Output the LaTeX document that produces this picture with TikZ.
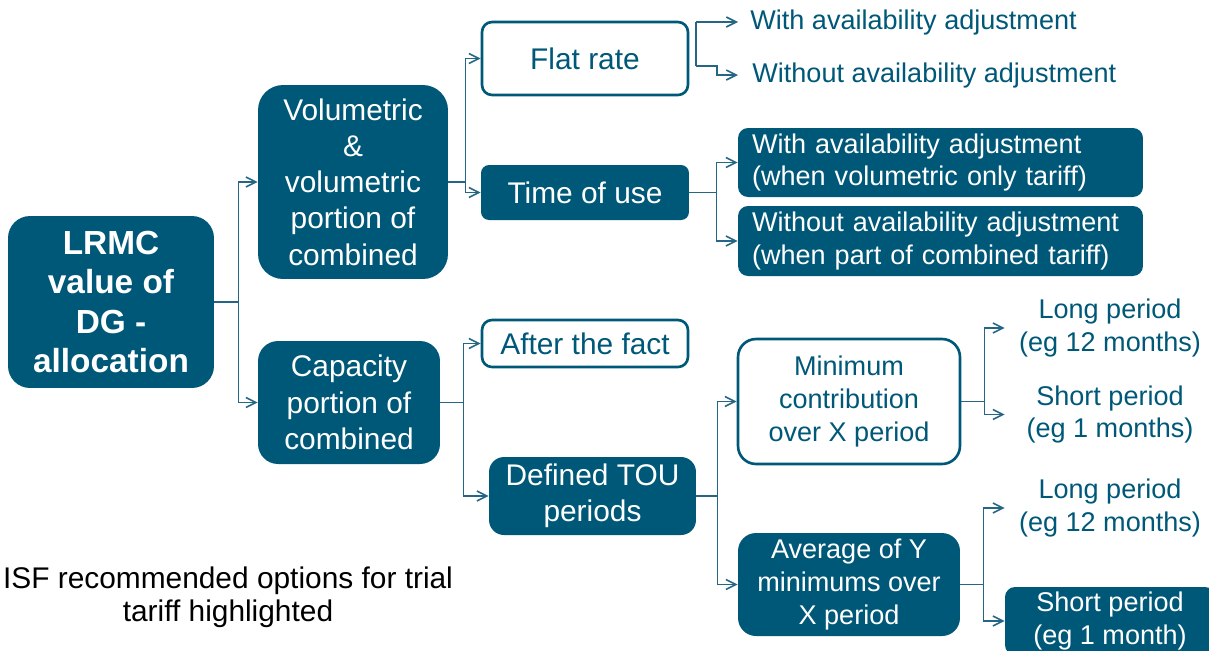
\documentclass[tikz,border=0pt]{standalone}
\usepackage{fontspec}
\setmainfont{Liberation Sans}
\usetikzlibrary{arrows.meta}
\definecolor{isfteal}{RGB}{0,88,120}
\definecolor{isfline}{RGB}{36,102,132}

\begin{document}
\begin{tikzpicture}[x=0.02cm, y=-0.02cm,
  every node/.style={text=isfteal, align=center, inner sep=0pt},
  darkbox/.style={fill=isfteal, text=white, rounded corners=0.2cm},
  whitebox/.style={draw=isfteal, line width=1.5pt, fill=white, rounded corners=0.2cm},
  bigtxt/.style={font=\fontsize{17}{20.6}\selectfont},
  smalltxt/.style={font=\fontsize{15.4}{18.6}\selectfont},
  wide/.style={minimum width=8.1cm, text width=7.54cm, align=left},
  period/.style={smalltxt, minimum width=4.2cm},
  link/.style={draw=isfline, line width=0.9pt},
  arr/.style={link, -{Straight Barb[length=0.2cm, width=0.2cm]}}]
\useasboundingbox (0,0) rectangle (1209,650);
\clip (0,0) rectangle (1209,650);

\node[darkbox, rounded corners=0.44cm, minimum width=4.12cm, minimum height=3.44cm,
  font=\fontsize{19}{22.4}\selectfont\bfseries] (root) at (111,302) {LRMC\\value of\\DG -\\allocation};

\node[darkbox, bigtxt, rounded corners=0.5cm, minimum width=3.8cm, minimum height=3.88cm] (vol) at (353,182)
  {Volumetric\\\&\\volumetric\\portion of\\combined};
\node[darkbox, bigtxt, rounded corners=0.4cm, minimum width=3.64cm, minimum height=2.46cm] (cap) at (349,402.5)
  {Capacity\\portion of\\combined};

\node[whitebox, bigtxt, minimum width=4.12cm, minimum height=1.46cm] (flat) at (585,58.5) {Flat rate};
\node[darkbox, bigtxt, rounded corners=0.16cm, minimum width=4.16cm, minimum height=1.1cm] (tou) at (585,192.5) {Time of use};
\node[whitebox, bigtxt, minimum width=4.12cm, minimum height=0.94cm] (after) at (585,343.5) {After the fact};
\node[darkbox, bigtxt, rounded corners=0.3cm, minimum width=4.14cm, minimum height=1.56cm] (defined) at (592.5,496)
  {Defined TOU\\periods};

\node[smalltxt, anchor=west, inner xsep=0.24cm] (with) at (738,22) {With availability adjustment};
\node[smalltxt, anchor=west, inner xsep=0.28cm] (without) at (738,75) {Without availability adjustment};
\node[darkbox, smalltxt, wide, minimum height=1.38cm] (vwith) at (940.5,162.5)
  {With availability adjustment\\(when volumetric only tariff)};
\node[darkbox, smalltxt, wide, minimum height=1.4cm] (vwithout) at (940.5,241)
  {Without availability adjustment\\(when part of combined tariff)};

\node[whitebox, smalltxt, rounded corners=0.36cm, minimum width=4.44cm, minimum height=2.5cm] (mincon) at (849,401.5)
  {Minimum\\contribution\\over X period};
\node[darkbox, smalltxt, rounded corners=0.36cm, minimum width=4.44cm, minimum height=2.06cm] (avg) at (849,584.5)
  {Average of Y\\minimums over\\X period};

\node[period] (long1) at (1110,328) {Long period\\(eg 12 months)};
\node[period] (short1) at (1110,414.5) {Short period\\(eg 1 months)};
\node[period] (long2) at (1110,508) {Long period\\(eg 12 months)};
\node[period, darkbox, minimum height=1.36cm] (short2) at (1110,621) {Short period\\(eg 1 month)};

\node[text=black, font=\fontsize{17}{18.6}\selectfont] (note) at (228,597)
  {ISF recommended options for trial\\tariff highlighted};

% split points of the flat rate branch
\coordinate (frtop) at (696,22);
\coordinate (frbot) at (696,66);

\draw[arr] (root.east) -- ++(24,0) |- (vol.west);
\draw[arr] (root.east) -- ++(24,0) |- (cap.west);

\draw[arr] (vol.east) -- ++(17,0) |- (flat.west);
\draw[arr] (vol.east) -- ++(17,0) |- (tou.west);

\draw[link] (frtop) -- (frbot);
\draw[arr] (frtop) -- (with.west);
\draw[arr] (frbot) -- ++(21,0) |- (without.west);

\draw[arr] (tou.east) -- ++(27,0) |- (vwith.west);
\draw[arr] (tou.east) -- ++(27,0) |- (vwithout.west);

\draw[arr] (cap.east) -- ++(23,0) |- (after.west);
\draw[arr] (cap.east) -- ++(23,0) |- (defined.west);

\draw[arr] (defined.east) -- ++(21,0) |- (mincon.west);
\draw[arr] (defined.east) -- ++(21,0) |- (avg.west);

\draw[arr] (mincon.east) -- ++(23,0) |- (long1.west);
\draw[arr] (mincon.east) -- ++(23,0) |- (short1.west);

\draw[arr] (avg.east) -- ++(23,0) |- (long2.west);
\draw[arr] (avg.east) -- ++(23,0) |- (short2.west);
\end{tikzpicture}
\end{document}
